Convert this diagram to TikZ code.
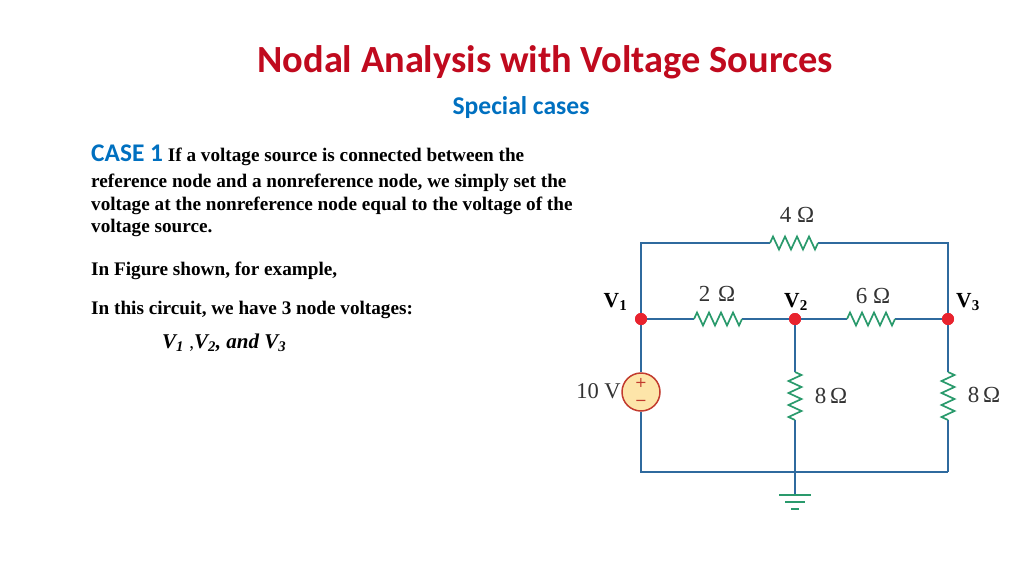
\documentclass[tikz,border=0pt]{standalone}
\usepackage{fontspec}
\setmainfont{Liberation Serif}
\newfontfamily\carl{Carlito}
\newfontfamily\dejavu{DejaVu Sans}
\usetikzlibrary{decorations.pathmorphing}
\definecolor{wire}{HTML}{2F6A9E}
\definecolor{res}{HTML}{2A9A6C}
\definecolor{titlered}{HTML}{C00A1E}
\definecolor{headblue}{HTML}{0070C0}
\definecolor{dotred}{HTML}{E8232E}
\definecolor{srcfill}{HTML}{FDE5A9}
\definecolor{srcedge}{HTML}{C23B2E}
\definecolor{lab}{HTML}{333333}
\tikzset{
  x=1pt,y=-1pt,
  wireline/.style={draw=wire,line width=1.9pt},
  zig/.style={draw=res,line width=1.7pt,decorate,decoration={zigzag,segment length=12pt,amplitude=6.5pt}},
  junction/.style={circle,fill=dotred,inner sep=0pt,minimum size=12pt},
  src/.style={circle,draw=srcedge,fill=srcfill,line width=1.5pt,inner sep=0pt,minimum size=38pt,
    text=srcedge,align=center,font=\dejavu\fontsize{14.5}{17.5}\selectfont},
  gnd/.style={draw=res,line width=1.9pt},
  body/.style={anchor=base west,inner sep=0pt,font=\bfseries\fontsize{19.2}{19.2}\selectfont,text=black},
  value/.style={inner sep=0pt,text=lab,font=\fontsize{23}{23}\selectfont},
  vlab/.style={inner sep=0pt,text=black,font=\bfseries\fontsize{21.5}{21.5}\selectfont},
}
\begin{document}
\begin{tikzpicture}
\useasboundingbox (0,0) rectangle (1024,576);
% text
\node[inner sep=0pt,text=titlered,font=\carl\bfseries\fontsize{38.4}{38.4}\selectfont] (title) at (545,62) {Nodal Analysis with Voltage Sources};
\node[inner sep=0pt,text=headblue,font=\carl\bfseries\fontsize{25.6}{25.6}\selectfont] (sub) at (521,107.5) {Special cases};
\node[body] (l1) at (91,161) {{\carl\fontsize{25.4}{25.4}\selectfont\textcolor{headblue}{CASE 1}} If a voltage source is connected between the};
\node[body] (l2) at (91,187) {reference node and a nonreference node, we simply set the};
\node[body] (l3) at (91,210) {voltage at the nonreference node equal to the voltage of the};
\node[body] (l4) at (91,232.5) {voltage source.};
\node[body] (l5) at (91,275.5) {In Figure shown, for example,};
\node[body] (l6) at (91,314) {In this circuit, we have 3 node voltages:};
\node[body,font=\bfseries\itshape\fontsize{21}{21}\selectfont] (l7) at (162,348) {V\textsubscript{1} {\upshape\mdseries\fontsize{19}{19}\selectfont,}V\textsubscript{2}, and V\textsubscript{3}};
% circuit points
\coordinate (tl) at (641,243);
\coordinate (tr) at (948,243);
\coordinate (bl) at (641,472);
\coordinate (br) at (948,472);
\coordinate (bm) at (795,472);
\coordinate (ra) at (770,243); \coordinate (rb) at (818,243);
\coordinate (sa) at (694,319); \coordinate (sb) at (742,319);
\coordinate (ta) at (847,319); \coordinate (tb) at (895,319);
\coordinate (ua) at (795,372); \coordinate (ub) at (795,420);
\coordinate (wa) at (948,372); \coordinate (wb) at (948,420);
\coordinate (g0) at (795,495);
\coordinate (g1a) at (779,495); \coordinate (g1b) at (811,495);
\coordinate (g2a) at (785,502); \coordinate (g2b) at (805,502);
\coordinate (g3a) at (791,509); \coordinate (g3b) at (799,509);
\node[junction] (v1) at (641,319) {};
\node[junction] (v2) at (795,319) {};
\node[junction] (v3) at (948,319) {};
\node[src] (s) at (641,392) {+\\−};
% wires
\draw[wireline,line join=miter] (ra) -- (tl) -- (v1);
\draw[wireline,line join=miter] (rb) -- (tr) -- (v3);
\draw[wireline] (v1) -- (sa) (sb) -- (v2) -- (ta) (tb) -- (v3);
\draw[wireline] (v1) -- (s.north);
\draw[wireline] (v2) -- (ua) (ub) -- (bm) -- (g0);
\draw[wireline] (v3) -- (wa) (wb) -- (br);
\draw[wireline,line join=miter] (s.south) -- (bl) -- (br);
% resistors
\draw[zig] (ra) -- (rb);
\draw[zig] (sa) -- (sb);
\draw[zig] (ta) -- (tb);
\draw[zig] (ua) -- (ub);
\draw[zig] (wa) -- (wb);
% ground
\draw[gnd] (g1a) -- (g1b);
\draw[gnd] (g2a) -- (g2b);
\draw[gnd] (g3a) -- (g3b);
% redraw junctions over wires
\node[junction] at (v1) {};
\node[junction] at (v2) {};
\node[junction] at (v3) {};
% labels
\node[value] (w4) at (797,215) {4 Ω};
\node[value] (w2) at (717,294) {2\,\,Ω};
\node[value] (w6) at (873,296) {6 Ω};
\node[value] (w8a) at (831,396) {8\,Ω};
\node[value] (w8b) at (984,395) {8\,Ω};
\node[value,font=\fontsize{22.5}{22.5}\selectfont] (w10) at (598.5,391) {10 V};
\node[vlab] (n1) at (615.5,302) {V\textsubscript{1}};
\node[vlab] (n2) at (796,302) {V\textsubscript{2}};
\node[vlab] (n3) at (968,302) {V\textsubscript{3}};
\end{tikzpicture}
\end{document}
